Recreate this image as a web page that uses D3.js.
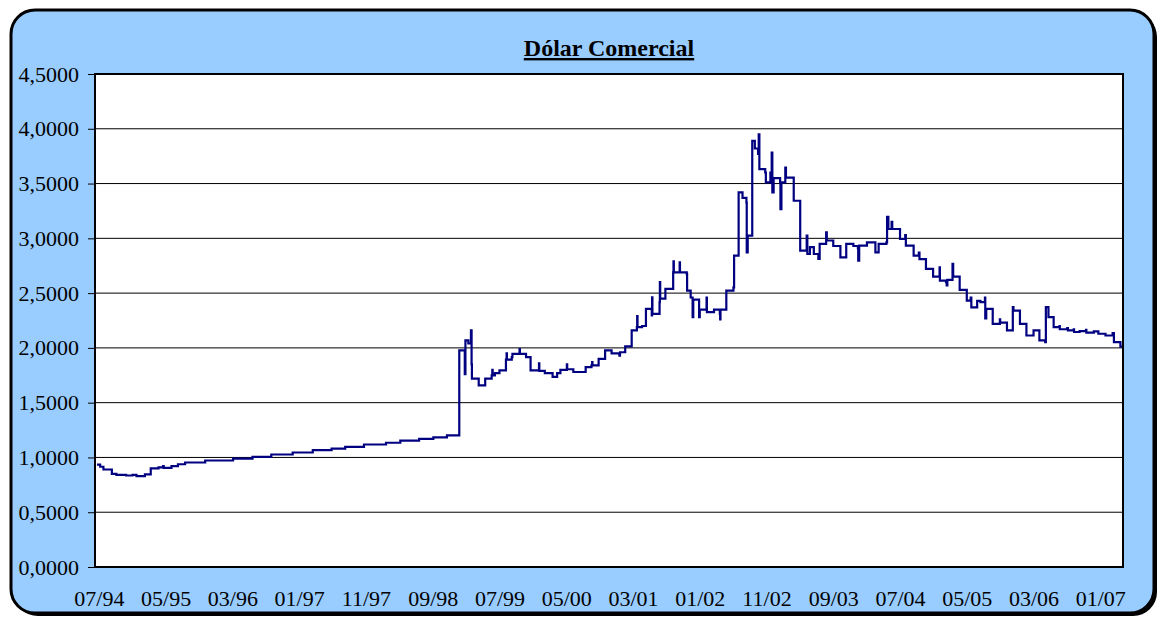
<!DOCTYPE html>
<html>
<head>
<meta charset="utf-8">
<script src="https://cdn.jsdelivr.net/npm/d3@7"></script>
<style>
  body { margin: 0; background: #fff; }
  text { font-family: "Liberation Serif", "Times New Roman", serif; fill: #000; }
</style>
</head>
<body>
<div id="chart"></div>
<script>
// position along the category axis (roughly months since 07/94) and R$/US$ rate
var pos  = [0.0, 0.5, 1.0, 2.3, 3.0, 4.5, 5.5, 6.1, 7.4, 8.3, 9.5, 10.2, 10.3, 11.5, 12.5, 13.6, 16.7, 21.0, 24.0, 26.9,
            30.2, 33.3, 36.2, 38.3, 41.2, 44.6, 46.8, 49.7, 51.9, 54.0, 55.9, 56.75, 56.85, 57.3, 57.7, 57.8, 57.85, 58.9, 59.9, 60.9,
            61.0, 61.05, 61.4, 62.1, 63.1, 63.2, 63.25, 64.0, 64.1, 65.2, 65.25, 66.2, 66.9, 68.2, 68.25, 69.1, 70.3, 71.0, 71.5, 72.5,
            72.55, 73.5, 75.4, 76.3, 76.4, 76.45, 77.4, 78.4, 79.4, 80.6, 80.7, 81.5, 82.5, 83.3, 83.35, 83.4, 84.1, 84.7, 85.6, 85.65,
            85.7, 86.8, 86.85, 86.9, 87.7, 88.9, 88.95, 89.0, 89.9, 89.95, 91.0, 91.05, 91.6, 91.9, 92.0, 92.6, 92.9, 93.0, 94.0, 94.05,
            94.1, 95.2, 96.1, 96.15, 96.2, 97.1, 98.2, 98.3, 99.0, 99.6, 100.2, 100.25, 100.4, 101.1, 101.5, 102.0, 102.1, 102.2, 103.1, 103.2,
            103.9, 104.1, 104.2, 104.4, 105.4, 105.45, 105.6, 106.2, 106.3, 107.5, 108.5, 109.5, 109.6, 110.0, 110.6, 111.3, 111.5, 112.5, 112.6, 113.6,
            114.7, 115.6, 116.7, 117.4, 117.45, 117.6, 118.8, 120.1, 120.6, 121.8, 121.9, 122.1, 122.6, 122.7, 123.9, 124.7, 124.8, 126.0, 126.8, 126.9,
            127.9, 129.0, 130.0, 130.05, 131.0, 131.1, 131.2, 132.0, 132.1, 133.1, 134.2, 134.8, 134.9, 135.8, 136.3, 137.0, 137.05, 137.2, 138.2, 139.3,
            139.35, 140.4, 141.3, 141.4, 142.4, 143.4, 144.5, 145.4, 146.3, 146.4, 146.8, 147.6, 148.5, 148.55, 149.7, 149.8, 150.7, 150.75, 151.6, 152.6,
            152.65, 153.8, 154.5, 155.6, 156.7, 156.9, 157.9, 158.3];
var rate = [0.935, 0.915, 0.89, 0.85, 0.84, 0.835, 0.84, 0.83, 0.845, 0.90, 0.91, 0.92, 0.905, 0.92, 0.938, 0.954, 0.972, 0.99, 1.005, 1.027,
            1.045, 1.066, 1.081, 1.096, 1.118, 1.134, 1.154, 1.169, 1.184, 1.202, 1.977, 1.76, 2.068, 2.04, 2.16, 1.85, 1.72, 1.658, 1.72, 1.75,
            1.80, 1.75, 1.77, 1.794, 1.892, 1.95, 1.892, 1.916, 1.946, 1.99, 1.946, 1.916, 1.794, 1.86, 1.79, 1.77, 1.735, 1.77, 1.80, 1.85,
            1.805, 1.78, 1.825, 1.84, 1.87, 1.84, 1.90, 1.977, 1.95, 1.93, 1.96, 2.013, 2.159, 2.19, 2.29, 2.19, 2.20, 2.357, 2.296, 2.462,
            2.31, 2.417, 2.60, 2.45, 2.539, 2.69, 2.79, 2.69, 2.78, 2.69, 2.675, 2.523, 2.46, 2.28, 2.44, 2.44, 2.28, 2.35, 2.35, 2.46,
            2.326, 2.35, 2.31, 2.259, 2.35, 2.523, 2.553, 2.842, 3.419, 3.37, 3.327, 2.872, 3.024, 3.89, 3.82, 3.77, 3.95, 3.632, 3.601, 3.51,
            3.60, 3.783, 3.419, 3.55, 3.51, 3.267, 3.51, 3.646, 3.555, 3.343, 2.888, 3.024, 2.857, 2.92, 2.857, 2.812, 2.949, 3.055, 2.98, 2.93,
            2.827, 2.949, 2.93, 2.91, 2.797, 2.933, 2.963, 2.872, 2.949, 2.963, 3.197, 3.085, 3.15, 3.085, 2.994, 3.03, 2.933, 2.842, 2.87, 2.81,
            2.721, 2.651, 2.735, 2.614, 2.60, 2.57, 2.62, 2.766, 2.651, 2.529, 2.432, 2.46, 2.37, 2.43, 2.417, 2.46, 2.27, 2.357, 2.22, 2.26,
            2.23, 2.159, 2.372, 2.341, 2.22, 2.113, 2.159, 2.068, 2.052, 2.372, 2.28, 2.189, 2.20, 2.17, 2.18, 2.159, 2.17, 2.145, 2.153, 2.165,
            2.14, 2.15, 2.129, 2.113, 2.135, 2.052, 2.012, 2.012];

var tickPos = [0.3, 10.6, 20.9, 31.2, 41.5, 51.8, 62.1, 72.4, 82.7, 93.0, 103.3, 113.6, 123.9, 134.2, 144.5, 154.8];
var tickLabels = ["07/94", "05/95", "03/96", "01/97", "11/97", "09/98", "07/99", "05/00",
                  "03/01", "01/02", "11/02", "09/03", "07/04", "05/05", "03/06", "01/07"];
var yTicks = [0, 0.5, 1, 1.5, 2, 2.5, 3, 3.5, 4, 4.5];

var W = 1160, H = 621;
var margin = {top: 74, right: 37, bottom: 54, left: 95},
    width = W - margin.left - margin.right,
    height = H - margin.top - margin.bottom;

var svg = d3.select("#chart")
  .append("svg")
    .attr("width", W)
    .attr("height", H);

// frame with shadow
svg.append("rect")
  .attr("x", 14).attr("y", 13)
  .attr("width", 1143).attr("height", 603)
  .attr("rx", 24).attr("ry", 24)
  .attr("fill", "#000");
svg.append("rect")
  .attr("x", 11).attr("y", 10)
  .attr("width", 1143).attr("height", 603)
  .attr("rx", 24).attr("ry", 24)
  .attr("fill", "#99ccff")
  .attr("stroke", "#000")
  .attr("stroke-width", 3);

svg.append("text")
  .attr("x", margin.left + width / 2)
  .attr("y", 56)
  .attr("text-anchor", "middle")
  .style("font-family", "'Liberation Serif', 'Times New Roman', serif")
  .style("font-size", "24px")
  .style("font-weight", "bold")
  .style("text-decoration", "underline")
  .text("Dólar Comercial");

var g = svg.append("g")
  .attr("transform", "translate(" + margin.left + "," + margin.top + ")");

g.append("rect")
  .attr("width", width).attr("height", height)
  .attr("fill", "#fff");

var x = d3.scaleLinear()
  .domain([-0.3, 158.3])
  .range([0, width]);

var y = d3.scaleLinear()
  .domain([0, 4.5])
  .range([height, 0]);

// gridlines
g.selectAll(".grid")
  .data(yTicks.slice(1, -1))
  .enter().append("line")
    .attr("x1", 0).attr("x2", width)
    .attr("y1", function(d) { return y(d); })
    .attr("y2", function(d) { return y(d); })
    .attr("stroke", "#000")
    .attr("stroke-width", 1);

var fmt = d3.format(".4f");
var yAxis = g.append("g")
  .call(d3.axisLeft(y).tickValues(yTicks).tickSize(7).tickPadding(9)
    .tickFormat(function(d) { return fmt(d).replace(".", ","); }));
yAxis.select(".domain").remove();
yAxis.selectAll("text").style("font-size", "22px").attr("font-family", null);
yAxis.selectAll("line").attr("stroke", "#000");

var xAxis = g.append("g")
  .attr("transform", "translate(0," + height + ")")
  .call(d3.axisBottom(x).tickValues(tickPos).tickSize(0).tickPadding(23)
    .tickFormat(function(d, i) { return tickLabels[i]; }));
xAxis.select(".domain").remove();
xAxis.selectAll("text").style("font-size", "22px").attr("font-family", null);

var line = d3.line()
  .x(function(d, i) { return x(pos[i]); })
  .y(function(d) { return y(d); })
  .curve(d3.curveStepAfter);

g.append("path")
  .datum(rate)
  .attr("fill", "none")
  .attr("stroke", "#000080")
  .attr("stroke-width", 2.2)
  .attr("d", line);

g.append("rect")
  .attr("width", width).attr("height", height)
  .attr("fill", "none")
  .attr("stroke", "#000")
  .attr("stroke-width", 2);
</script>
</body>
</html>
